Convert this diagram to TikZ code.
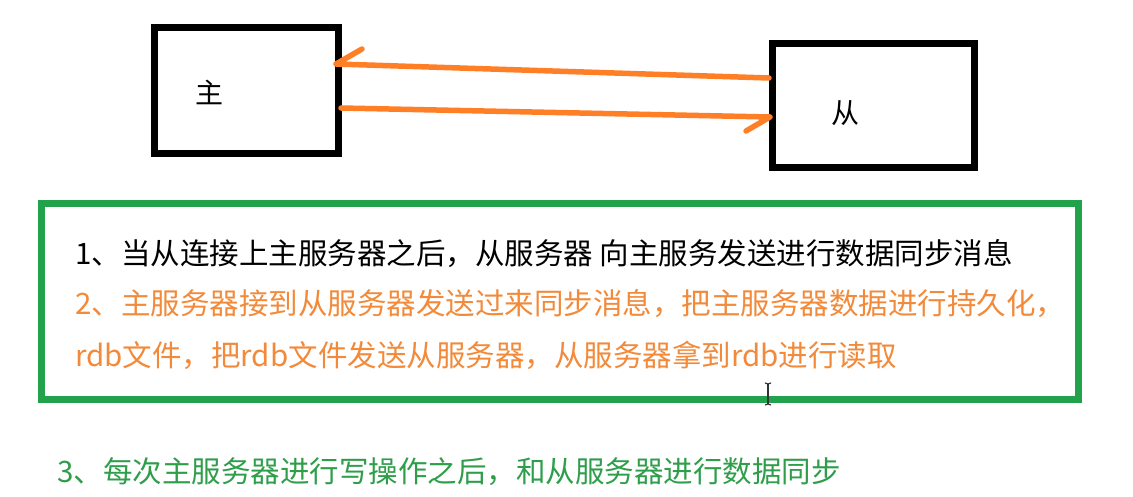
\documentclass[tikz,border=0pt]{standalone}
\usepackage{fontspec}
\usetikzlibrary{calc}
\setmainfont{Noto Sans CJK SC}
\definecolor{paintorange}{HTML}{FF7F27}
\definecolor{txtorange}{HTML}{F28A3A}
\definecolor{boxgreen}{HTML}{22A24A}
\definecolor{txtgreen}{HTML}{2E9E4A}
\tikzset{
  blackbox/.style={draw=black, line width=7pt, fill=white},
  arrowline/.style={draw=paintorange, line width=5.5pt, line cap=round, line join=round},
  greenbox/.style={draw=boxgreen, line width=7pt},
  label/.style={inner sep=0pt, font=\fontsize{28}{34}\selectfont},
  txt/.style={inner sep=0pt, anchor=west, font=\fontsize{29.5}{35}\selectfont},
}
\begin{document}
\begin{tikzpicture}[x=1pt,y=-1pt]
\useasboundingbox[fill=white] (0,0) rectangle (1133,497);
% boxes
\draw[blackbox] (154.5,27.5) rectangle (338.5,154);
\draw[blackbox] (772.5,43.5) rectangle (974.5,167.5);
\node[label] (zhu) at (209,92) {主};
\node[label] (cong) at (845,113) {从};
% arrow points
\coordinate (a1s) at (769,78);
\coordinate (a1e) at (336,64);
\coordinate (a1b) at (362,49);
\coordinate (a2s) at (341,108);
\coordinate (a2e) at (770,117);
\coordinate (a2b) at (746,131);
\draw[arrowline] (a1s) -- (a1e) -- (a1b);
\draw[arrowline] (a2s) -- (a2e) -- (a2b);
% green box
\draw[greenbox] (41.5,203.5) rectangle (1078.5,399.5);
\node[txt, text=black] (l1) at (75,254) {1、当从连接上主服务器之后，从服务器 向主服务发送进行数据同步消息};
\node[txt, text=txtorange] (l2) at (75,304) {2、主服务器接到从服务器发送过来同步消息，把主服务器数据进行持久化，};
\node[txt, text=txtorange] (l3) at (75,355) {rdb文件，把rdb文件发送从服务器，从服务器拿到rdb进行读取};
\node[txt, text=txtgreen] (l4) at (57,472) {3、每次主服务器进行写操作之后，和从服务器进行数据同步};
% text cursor
\coordinate (c1) at (768,384);
\coordinate (c2) at (768,404);
\draw[line width=1.2pt, black!80] (c1) -- (c2);
\draw[line width=1.2pt, black!80] ($(c1)+(-3,-1)$) -- (c1) -- ($(c1)+(3,-1)$);
\draw[line width=1.2pt, black!80] ($(c2)+(-3,1)$) -- (c2) -- ($(c2)+(3,1)$);
\end{tikzpicture}
\end{document}
